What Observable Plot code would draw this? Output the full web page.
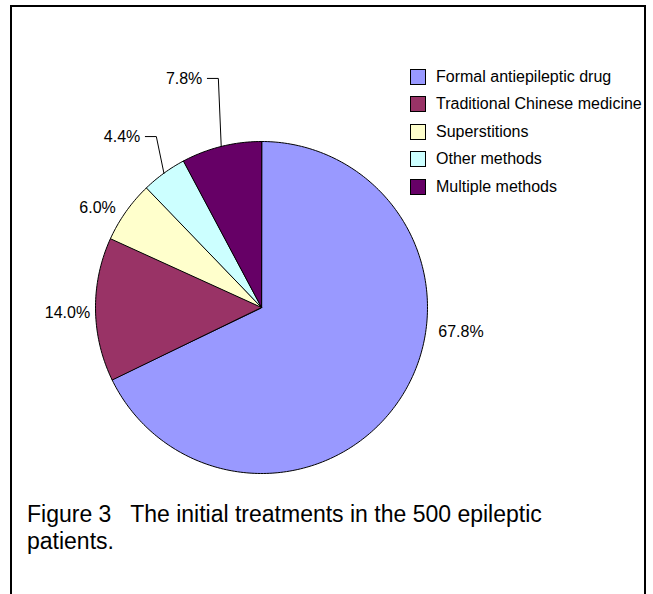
<!DOCTYPE html>
<html><head><meta charset="utf-8">
<script src="https://cdn.jsdelivr.net/npm/d3@7"></script>
<script src="https://cdn.jsdelivr.net/npm/@observablehq/plot@0.6"></script>
<style>
body{margin:0;background:#fff;font-family:"Liberation Sans",Arial,sans-serif;color:#000;}
#page{position:relative;width:653px;height:594px;overflow:hidden;background:#fff;}
#chart{position:absolute;left:0;top:0;}
#frame{position:absolute;left:10px;top:5px;width:632px;height:640px;border:2px solid #000;pointer-events:none;}
#legend{position:absolute;left:410px;top:63px;}
.row{display:flex;align-items:center;height:27.5px;font-size:16px;white-space:nowrap;}
.sw{width:16px;height:16px;border:1px solid #000;margin-right:10px;box-sizing:border-box;flex:none;}
#caption{position:absolute;left:27px;top:501px;font-size:23px;line-height:26.5px;white-space:pre;}
</style></head><body>
<div id="page"><div id="chart"></div><div id="legend"></div><div id="caption"></div><div id="frame"></div></div>
<script>
// ---- data ----
const categories = ["Formal antiepileptic drug","Traditional Chinese medicine","Superstitions","Other methods","Multiple methods"];
const percents = [67.8, 14.0, 6.0, 4.4, 7.8];
const colors = ["#9999FF","#993366","#FFFFCC","#CCFFFF","#660066"];
const captionLines = ["Figure 3   The initial treatments in the 500 epileptic","patients."];

// ---- layout (label placement: angle in degrees clockwise from top, radius as multiple of pie radius) ----
const labelAngle = [97.1, 268.5, 301.4, 325.8, 346.7];
const labelRadius = [1.211, 1.169, 1.157, 1.245, 1.418];
const hasLeader = [false, false, false, true, true];

const W = 653, H = 490, CX = 261, CY = 307, R = 166;
const rad = a => a * Math.PI / 180;
const total = d3.sum(percents);

// slice polygons
const slicePts = [];
const leaderPts = [];
const labels = [];
let start = 0;
categories.forEach((cat, i) => {
  const sweep = percents[i] / total * 360;
  const end = start + sweep;
  slicePts.push({cat, x: 0, y: 0});
  const n = Math.max(2, Math.ceil(sweep));
  for (let k = 0; k <= n; k++) {
    const a = rad(start + sweep * k / n);
    slicePts.push({cat, x: Math.sin(a), y: Math.cos(a)});
  }
  const mid = rad(start + sweep / 2);
  const la = rad(labelAngle[i]);
  const lx = labelRadius[i] * Math.sin(la), ly = labelRadius[i] * Math.cos(la);
  labels.push({cat, x: lx, y: ly, text: percents[i].toFixed(1) + "%", leader: hasLeader[i]});
  if (hasLeader[i]) {
    leaderPts.push({cat, x: lx, y: ly});
    leaderPts.push({cat, x: lx + 11 / R, y: ly});
    leaderPts.push({cat, x: Math.sin(mid), y: Math.cos(mid)});
  }
  start = end;
});

const chart = Plot.plot({
  width: W, height: H,
  margin: 0,
  style: {background: "transparent", fontFamily: "'Liberation Sans', Arial, sans-serif", fontSize: "16px", overflow: "visible"},
  x: {domain: [-CX / R, (W - CX) / R], range: [0, W], axis: null},
  y: {domain: [-(H - CY) / R, CY / R], range: [H, 0], axis: null},
  color: {domain: categories, range: colors},
  marks: [
    Plot.line(slicePts, {x: "x", y: "y", z: "cat", fill: "cat", stroke: "#000", strokeWidth: 1, curve: "linear-closed"}),
    Plot.line(leaderPts, {x: "x", y: "y", z: "cat", stroke: "#000", strokeWidth: 1}),
    Plot.text(labels.filter(d => !d.leader), {x: "x", y: "y", text: "text", textAnchor: "middle", fill: "#000", fontSize: 16}),
    Plot.text(labels.filter(d => d.leader), {x: "x", y: "y", text: "text", textAnchor: "end", dx: -5, fill: "#000", fontSize: 16})
  ]
});
document.getElementById("chart").appendChild(chart);

// legend
const leg = document.getElementById("legend");
categories.forEach((cat, i) => {
  const row = document.createElement("div");
  row.className = "row";
  const sw = document.createElement("div");
  sw.className = "sw";
  sw.style.background = colors[i];
  const t = document.createElement("span");
  t.textContent = cat;
  row.appendChild(sw); row.appendChild(t);
  leg.appendChild(row);
});

// caption
document.getElementById("caption").textContent = captionLines.join("\n");
</script>
</body></html>
